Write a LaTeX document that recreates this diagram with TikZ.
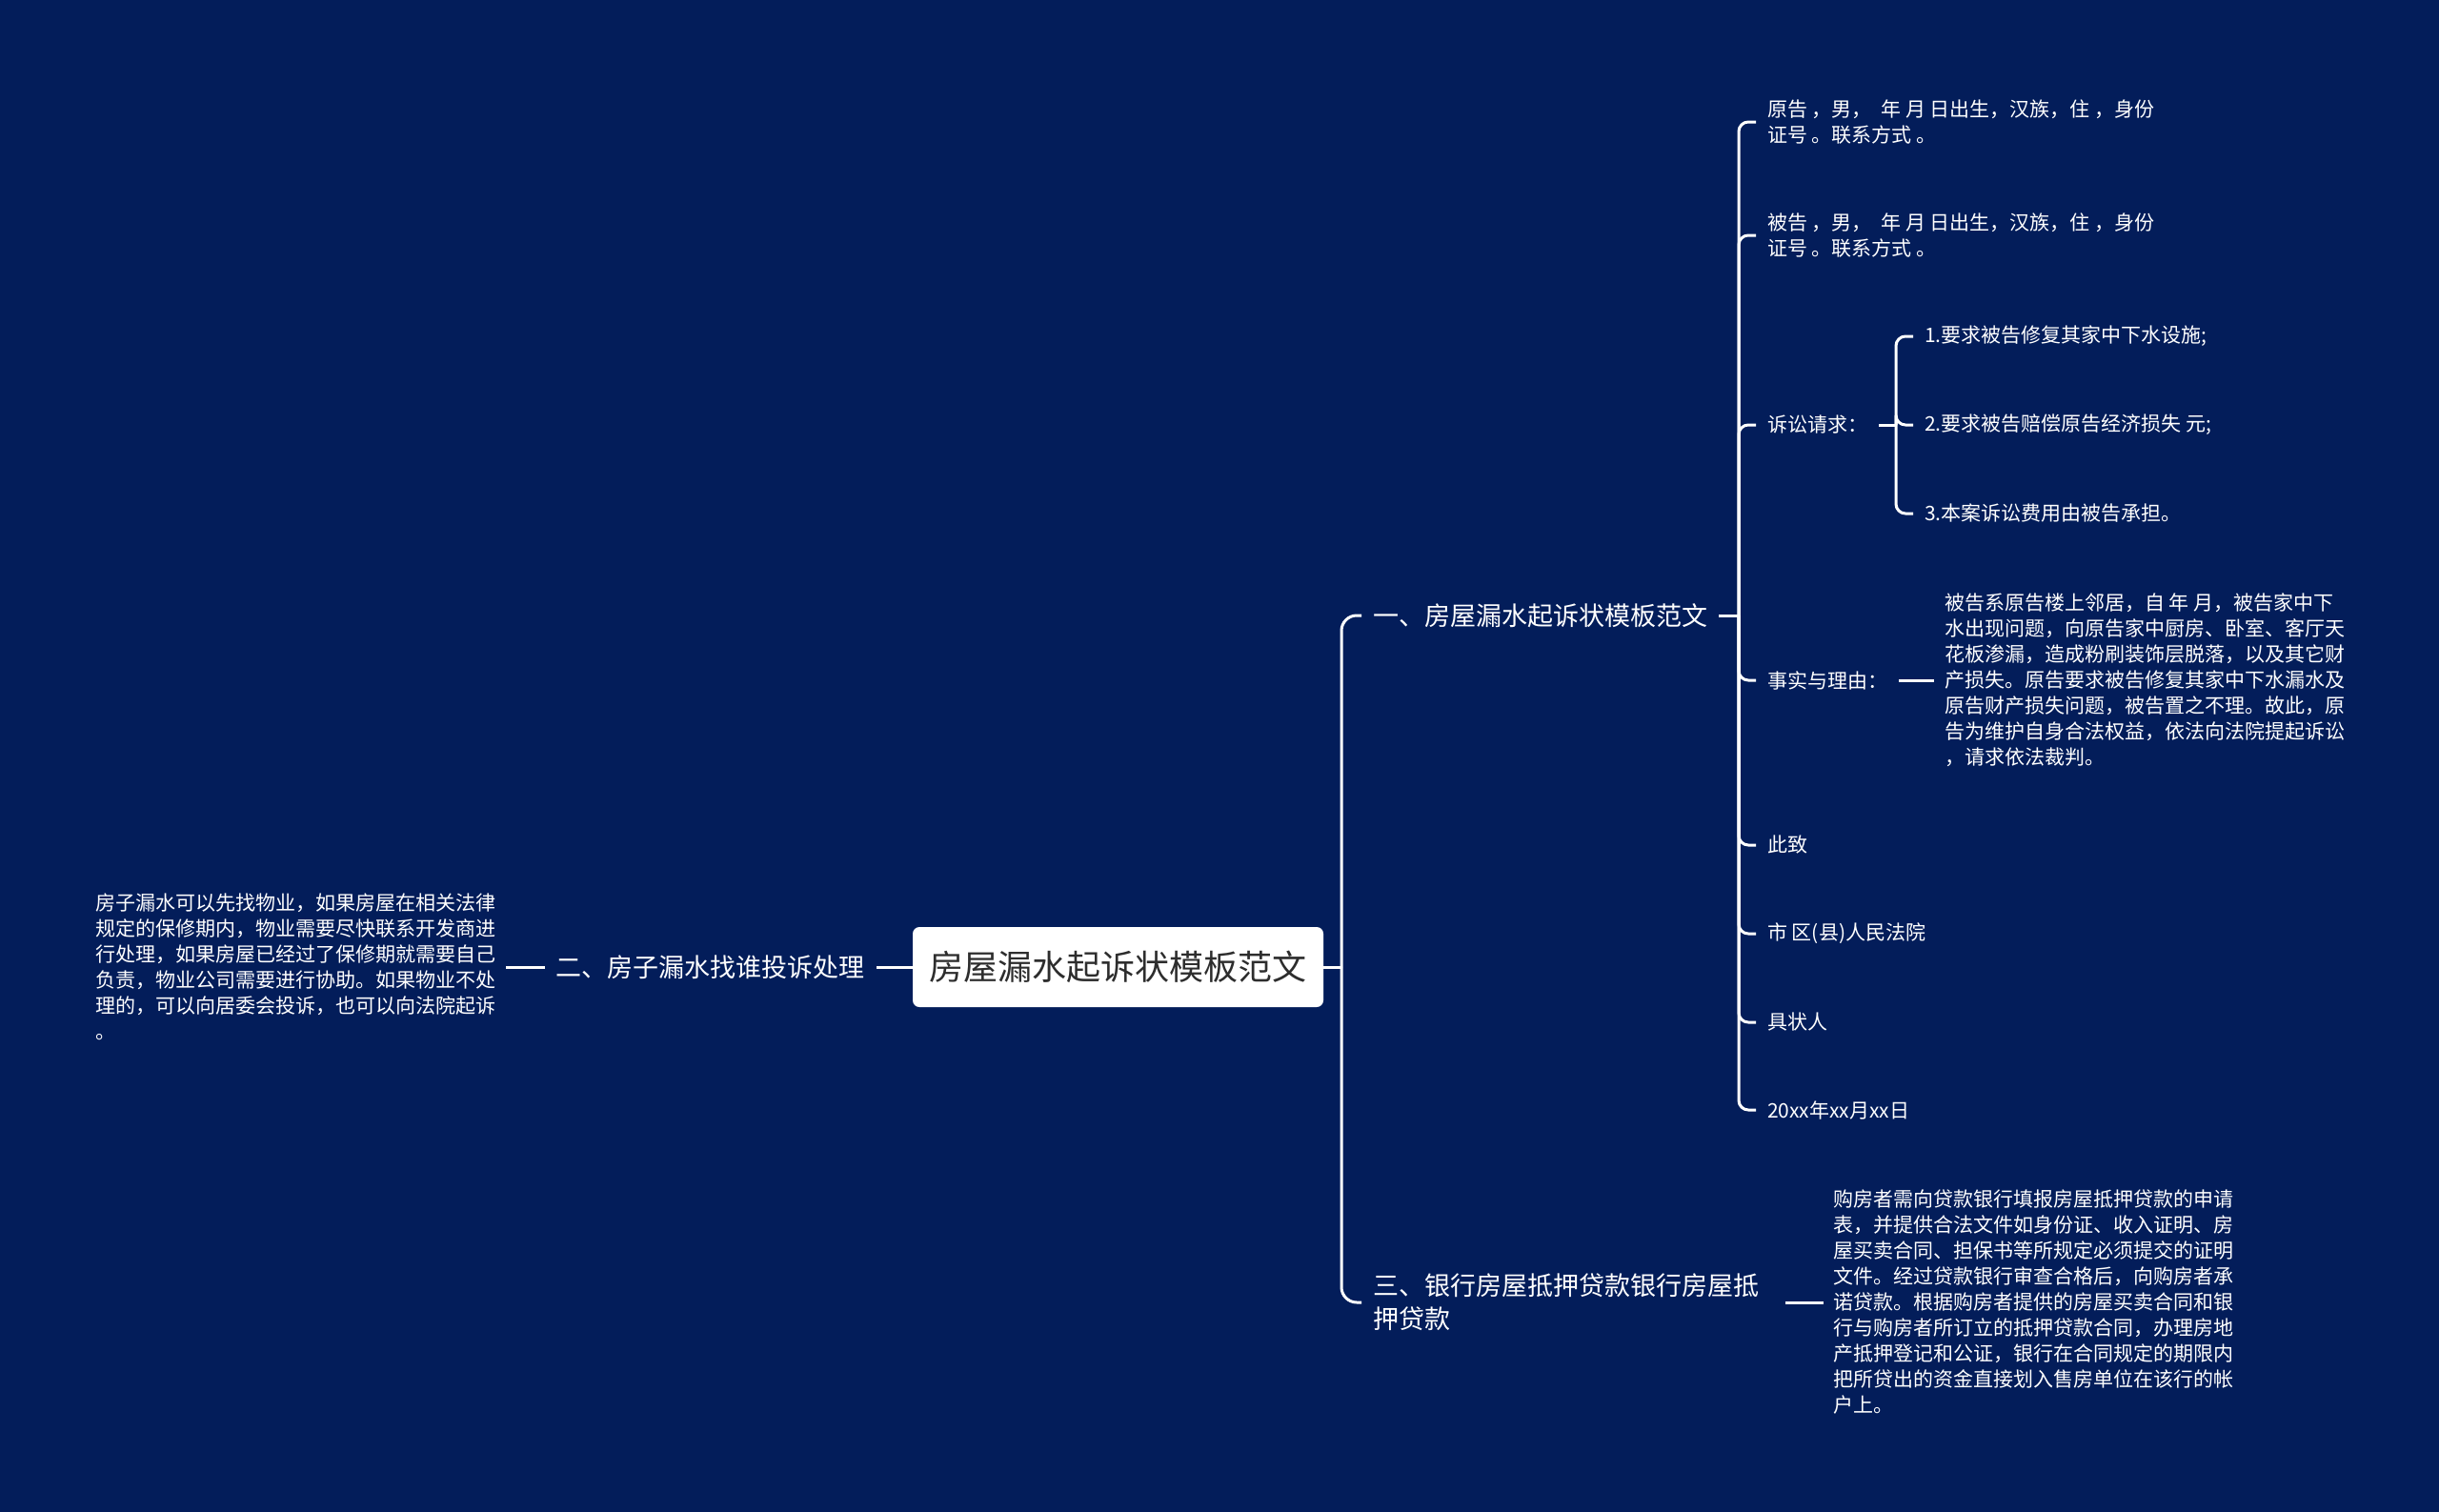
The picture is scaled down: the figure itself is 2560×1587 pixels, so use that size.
\documentclass[tikz,border=0pt]{standalone}
\usepackage{fontspec}
\newfontfamily\cjk{Noto Sans CJK SC}
\definecolor{bg}{RGB}{3,29,90}
\definecolor{roottext}{RGB}{45,45,45}
\begin{document}
\begin{tikzpicture}[x=1pt,y=-1pt,
  edge/.style={draw=white,line width=3pt},
  leaf/.style={font=\cjk\fontsize{21}{27}\selectfont,text=white,align=left,anchor=west,inner xsep=12pt,inner ysep=2pt},
  mainb/.style={font=\cjk\fontsize{27}{35}\selectfont,text=white,align=left,inner xsep=12pt,inner ysep=2pt},
  rootbox/.style={fill=white,rounded corners=7pt,font=\cjk\fontsize{36}{40}\selectfont,text=roottext,minimum width=431pt,minimum height=84pt,inner sep=0pt}]
\fill[bg] (0,0) rectangle (2560,1587);
\useasboundingbox (0,0) rectangle (2560,1587);

% root
\node[rootbox] (root) at (1173.5,1015) {房屋漏水起诉状模板范文};

% left branch
\node[mainb,anchor=east] (b2) at (920,1015) {二、房子漏水找谁投诉处理};
\node[leaf,anchor=east,inner xsep=10pt] (p2) at (531,1015) {房子漏水可以先找物业，如果房屋在相关法律\\规定的保修期内，物业需要尽快联系开发商进\\行处理，如果房屋已经过了保修期就需要自己\\负责，物业公司需要进行协助。如果物业不处\\理的，可以向居委会投诉，也可以向法院起诉\\。};
\draw[edge] (root.west) -- (b2.east);
\draw[edge] (b2.west) -- (p2.east);

% right trunk
\coordinate (tr) at (1408,1015);
\draw[edge] (root.east) -- (tr);
\node[mainb,anchor=west] (b1) at (1429,646) {一、房屋漏水起诉状模板范文};
\node[mainb,anchor=west,text width=421pt] (b3) at (1429,1367) {三、银行房屋抵押贷款银行房屋抵\\押贷款};
\draw[edge,rounded corners=16pt] (tr) |- (b1.west);
\draw[edge,rounded corners=16pt] (tr) |- (b3.west);

% branch 3 paragraph
\node[leaf,inner xsep=10pt] (p3) at (1914,1367) {购房者需向贷款银行填报房屋抵押贷款的申请\\表，并提供合法文件如身份证、收入证明、房\\屋买卖合同、担保书等所规定必须提交的证明\\文件。经过贷款银行审查合格后，向购房者承\\诺贷款。根据购房者提供的房屋买卖合同和银\\行与购房者所订立的抵押贷款合同，办理房地\\产抵押登记和公证，银行在合同规定的期限内\\把所贷出的资金直接划入售房单位在该行的帐\\户上。};
\draw[edge] (b3.east) -- (p3.west);

% branch 1 children
\coordinate (v1) at (1825,646);
\draw[edge] (b1.east) -- (v1);
\node[leaf] (c1) at (1843,128) {原告 ，男，\ \ 年 月 日出生，汉族，住 ，身份\\证号 。联系方式 。};
\node[leaf] (c2) at (1843,247) {被告 ，男，\ \ 年 月 日出生，汉族，住 ，身份\\证号 。联系方式 。};
\node[leaf] (c3) at (1843,446) {诉讼请求：};
\node[leaf] (c4) at (1843,714) {事实与理由：};
\node[leaf] (c5) at (1843,887) {此致};
\node[leaf] (c6) at (1843,980) {市 区(县)人民法院};
\node[leaf] (c7) at (1843,1073) {具状人};
\node[leaf] (c8) at (1843,1165) {20xx年xx月xx日};
\foreach \i in {1,...,8} \draw[edge,rounded corners=10pt] (v1) |- (c\i.west);

% claims
\coordinate (v3) at (1990,446);
\draw[edge] (c3.east) -- (v3);
\node[leaf] (r1) at (2008,353) {1.要求被告修复其家中下水设施;};
\node[leaf] (r2) at (2008,446) {2.要求被告赔偿原告经济损失 元;};
\node[leaf] (r3) at (2008,539) {3.本案诉讼费用由被告承担。};
\foreach \i in {1,2,3} \draw[edge,rounded corners=10pt] (v3) |- (r\i.west);

% facts
\node[leaf,inner xsep=11pt] (p4) at (2030,714) {被告系原告楼上邻居，自 年 月，被告家中下\\水出现问题，向原告家中厨房、卧室、客厅天\\花板渗漏，造成粉刷装饰层脱落，以及其它财\\产损失。原告要求被告修复其家中下水漏水及\\原告财产损失问题，被告置之不理。故此，原\\告为维护自身合法权益，依法向法院提起诉讼\\，请求依法裁判。};
\draw[edge] (c4.east) -- (p4.west);
\end{tikzpicture}
\end{document}
